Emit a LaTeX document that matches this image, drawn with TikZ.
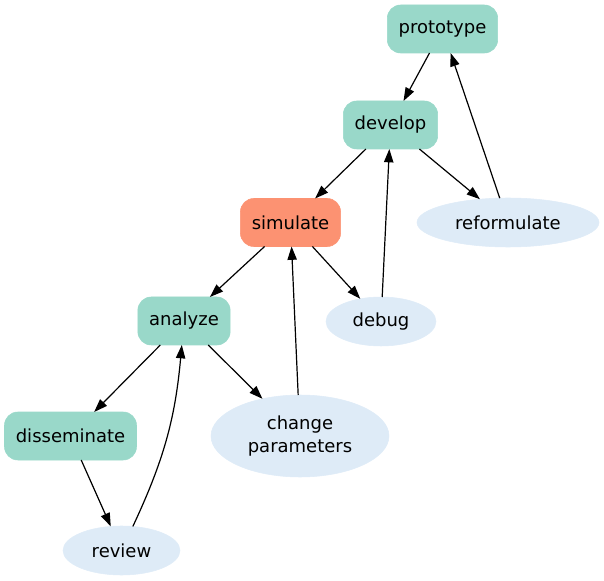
\documentclass[tikz,border=0pt]{standalone}
\usepackage{fontspec}
\setmainfont{DejaVu Sans}
\usetikzlibrary{shapes.geometric,arrows.meta}
\definecolor{teal}{HTML}{99D8C9}
\definecolor{salmon}{HTML}{FC9272}
\definecolor{pale}{HTML}{DEEBF7}
\begin{document}
\begin{tikzpicture}[x=0.75pt, y=-0.75pt, every node/.style={outer sep=0pt, align=center, font=\fontsize{13.5}{17.5}\selectfont},
    box/.style={draw=teal, fill=teal, rounded corners=10pt, minimum height=36pt, inner xsep=8.5pt},
    oval/.style={ellipse, draw=pale, fill=pale, inner sep=0pt, minimum height=36.75pt},
    arrow/.style={line width=0.9pt, -{Triangle[length=10pt, width=7pt]}}]
    \useasboundingbox (0,0) rectangle (604,581);
    \node[box](prototype) at (442.5, 29) {prototype};
    \node[box](develop) at (390.5, 125) {develop};
    \node[box, draw=salmon, fill=salmon](simulate) at (290.5, 222.5) {simulate};
    \node[box](analyze) at (184, 321) {analyze};
    \node[box](disseminate) at (70.5, 436) {disseminate};

    \node[oval, minimum width=136.5pt](reformulate) at (508, 222.5) {reformulate};
    \node[oval, minimum width=82.5pt](debug) at (381, 321.5) {debug};
    \node[oval, minimum width=133.5pt, minimum height=61.5pt](change) at (300, 436) {change\\parameters};
    \node[oval, minimum width=87.75pt](review) at (121.5, 550.5) {review};

    \draw[arrow]
    (prototype) edge (develop) (develop) edge (simulate) (develop) edge (reformulate)
    (reformulate) edge (prototype) (simulate) edge (analyze) (simulate) edge (debug)
    (debug) edge (develop) (analyze) edge (disseminate) (analyze) edge (change)
    (change) edge (simulate) (disseminate) edge (review);
    \draw[arrow] (review) to[bend right=10] (analyze);
\end{tikzpicture}
\end{document}
